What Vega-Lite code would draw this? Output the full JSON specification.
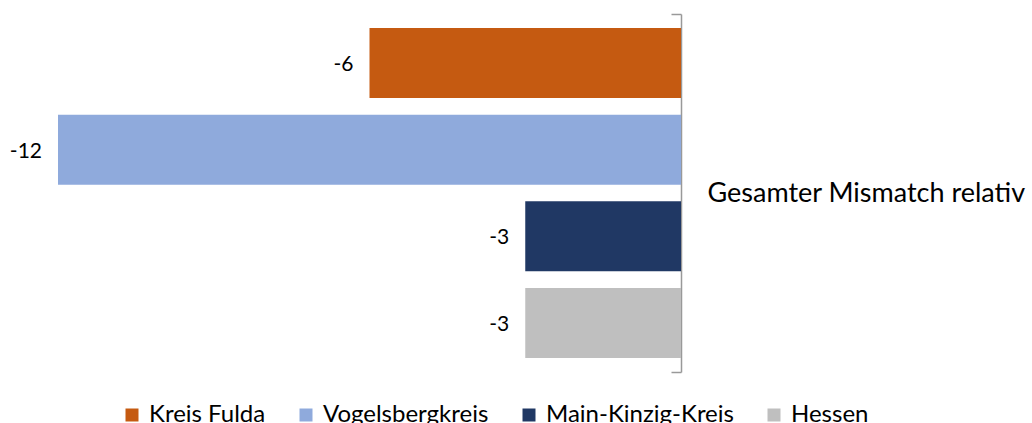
{
  "$schema": "https://vega.github.io/schema/vega-lite/v6.json",
  "autosize": {"type": "none"},
  "width": 623,
  "height": 358,
  "padding": {"left": 58, "top": 14, "right": 351, "bottom": 51},
  "background": "white",
  "config": {
    "view": {"stroke": null},
    "font": "Lato",
    "locale": {
      "number": {
        "decimal": ",",
        "thousands": ".",
        "grouping": [3],
        "currency": ["", " €"],
        "minus": "-"
      }
    }
  },
  "data": {
    "values": [
      {"kategorie": "Gesamter Mismatch relativ", "region": "Kreis Fulda", "wert": -6},
      {"kategorie": "Gesamter Mismatch relativ", "region": "Vogelsbergkreis", "wert": -12},
      {"kategorie": "Gesamter Mismatch relativ", "region": "Main-Kinzig-Kreis", "wert": -3},
      {"kategorie": "Gesamter Mismatch relativ", "region": "Hessen", "wert": -3}
    ]
  },
  "encoding": {
    "y": {
      "field": "kategorie",
      "type": "nominal",
      "scale": {"paddingInner": 0, "paddingOuter": 0},
      "axis": {
        "orient": "right",
        "title": null,
        "tickBand": "extent",
        "tickSize": -10,
        "tickColor": "#999999",
        "tickWidth": 1.5,
        "domainColor": "#999999",
        "domainWidth": 1.5,
        "labelFontSize": 27,
        "labelFont": "Lato",
        "labelColor": "#000000",
        "labelPadding": 36,
        "labelLimit": 0,
        "labelAlign": "left",
        "labelBaseline": "middle"
      }
    },
    "yOffset": {
      "field": "region",
      "type": "nominal",
      "sort": ["Kreis Fulda", "Vogelsbergkreis", "Main-Kinzig-Kreis", "Hessen"],
      "scale": {"paddingInner": 0.193, "paddingOuter": 0.161}
    },
    "x": {
      "field": "wert",
      "type": "quantitative",
      "scale": {"domain": [-12, 0], "nice": false},
      "axis": null
    }
  },
  "layer": [
    {
      "mark": {"type": "bar"},
      "encoding": {
        "color": {
          "field": "region",
          "type": "nominal",
          "sort": ["Kreis Fulda", "Vogelsbergkreis", "Main-Kinzig-Kreis", "Hessen"],
          "scale": {
            "domain": ["Kreis Fulda", "Vogelsbergkreis", "Main-Kinzig-Kreis", "Hessen"],
            "range": ["#C55A11", "#8FAADC", "#203864", "#BFBFBF"]
          },
          "legend": {
            "title": null,
            "orient": "none",
            "direction": "horizontal",
            "legendX": 62,
            "legendY": 389,
            "padding": 0,
            "symbolType": "square",
            "symbolSize": 169,
            "symbolStrokeWidth": 0,
            "symbolOpacity": 1,
            "labelFontSize": 24,
            "labelFont": "Lato",
            "labelColor": "#000000",
            "labelOffset": 5,
            "columnPadding": 28,
            "labelLimit": 0
          }
        }
      }
    },
    {
      "mark": {"type": "text", "align": "right", "baseline": "middle", "dx": -16, "dy": 2, "fontSize": 21, "font": "Lato", "color": "#000000"},
      "encoding": {
        "text": {"field": "wert", "type": "quantitative"}
      }
    }
  ]
}
